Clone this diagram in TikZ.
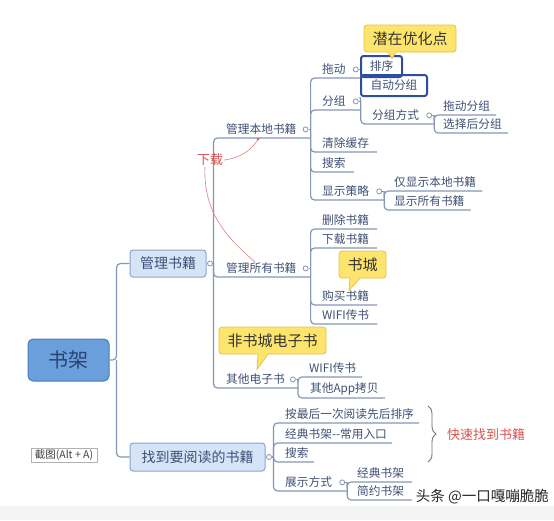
\documentclass[tikz,border=0pt]{standalone}
\usepackage{fontspec}
\newfontfamily\cjk{Noto Sans CJK SC}
\usetikzlibrary{calc,decorations.pathreplacing,shadows}
\definecolor{txt}{HTML}{3F5075}
\definecolor{linec}{HTML}{8597B5}
\definecolor{rootfill}{HTML}{6A9FDC}
\definecolor{rootdraw}{HTML}{4A7DBE}
\definecolor{rtxt}{HTML}{2B4270}
\definecolor{boxfill}{HTML}{D6E4F8}
\definecolor{boxdraw}{HTML}{8CA4CC}
\definecolor{callfill}{HTML}{FDE46C}
\definecolor{calldraw}{HTML}{E6C440}
\definecolor{hlc}{HTML}{2F4D9E}
\definecolor{redc}{HTML}{D9534F}
\definecolor{bandc}{HTML}{F3F3F3}
\newcommand\callptr[4]{%
  \fill[callfill] ($(#1.south)+(#2,-1.2)$) -- ($(#1.south)+(#4)$) -- ($(#1.south)+(#3,-1.2)$) -- cycle;
  \draw[calldraw, line width=0.8pt] ($(#1.south)+(#2,-0.3)$) -- ($(#1.south)+(#4)$) -- ($(#1.south)+(#3,-0.3)$);}
\begin{document}
\begin{tikzpicture}[x=1pt,y=-1pt,
  leaf/.style={font=\cjk\fontsize{11.7}{13}\selectfont, text=txt, inner xsep=0pt, inner ysep=3pt, anchor=south west},
  conn/.style={draw=linec, line width=1.2pt, rounded corners=4pt},
  knob/.style={circle, draw=linec, fill=white, inner sep=0pt, minimum size=5pt, line width=0.8pt},
  mainbox/.style={draw=boxdraw, fill=boxfill, line width=1pt, rounded corners=3pt, text=txt, font=\cjk\fontsize{14}{16}\selectfont, inner sep=0pt},
  callout/.style={draw=calldraw, fill=callfill, line width=0.8pt, rounded corners=3pt, text=black!80, font=\cjk\fontsize{15}{17}\selectfont, inner sep=0pt},
  hlbox/.style={draw=hlc, line width=2pt, rounded corners=2.5pt, text=txt, font=\cjk\fontsize{11.7}{13}\selectfont, inner sep=0pt, anchor=south west},
  redtxt/.style={text=redc, font=\cjk\fontsize{13}{15}\selectfont, inner sep=1pt},
  redln/.style={draw=redc!75, line width=0.6pt},
]
\useasboundingbox (0,0) rectangle (554,520);
\fill[white] (0,0) rectangle (554,520);
\fill[bandc] (0,506) rectangle (554,520);

% root and main boxes
\node[draw=rootdraw, fill=rootfill, line width=1pt, rounded corners=5pt, minimum width=81pt, minimum height=42pt, text=rtxt, font=\cjk\fontsize{20}{22}\selectfont] (root) at (68.5,360) {书架};
\node[mainbox, minimum width=76pt, minimum height=27pt] (b1) at (168,263.5) {管理书籍};
\node[mainbox, minimum width=135pt, minimum height=28pt] (b2) at (197.5,457) {找到要阅读的书籍};
\coordinate (s0) at ([xshift=7pt]root.east);
\node[knob] (k1) at ([xshift=3.5pt]b1.east) {};
\coordinate (s1) at ([xshift=7pt]b1.east);
\node[knob] (k2) at ([xshift=3.5pt]b2.east) {};
\coordinate (s2) at ([xshift=8pt]b2.east);
\draw[conn] (root.east) -- (s0) |- (b1.west);
\draw[conn] (s0) |- (b2.west);
\draw[conn] (k1.east) -- (s1);
\draw[conn] (k2.east) -- (s2);

% level 1 under 管理书籍
\node[leaf] (l1a) at (226,138) {管理本地书籍};
\node[leaf] (l1b) at (226,277) {管理所有书籍};
\node[leaf] (l1c) at (226,388) {其他电子书};
\node[knob] (k1a) at ([xshift=9pt]l1a.east) {};
\node[knob] (k1b) at ([xshift=9pt]l1b.east) {};
\node[knob] (k1c) at ([xshift=8pt]l1c.east) {};
\coordinate (s1a) at ([xshift=5pt]k1a.center);
\coordinate (s1b) at ([xshift=5pt]k1b.center);
\coordinate (s1c) at ([xshift=5pt]k1c.center);
\draw[conn] (s1) |- (l1a.south west) -- (l1a.south west -| s1a);
\draw[conn] (s1) |- (l1b.south west) -- (l1b.south west -| s1b);
\draw[conn] (s1) |- (l1c.south west) -- (l1c.south west -| s1c);
\draw[conn] (k1a.east) -- (s1a);
\draw[conn] (k1b.east) -- (s1b);
\draw[conn] (k1c.east) -- (s1c);

% under 管理本地书籍
\node[leaf] (tuo) at (322,78) {拖动};
\node[leaf] (fz) at (322,110) {分组};
\node[leaf] (qc) at (322,152) {清除缓存};
\node[leaf] (ssa) at (322,172) {搜索};
\node[leaf] (xs) at (322,200) {显示策略};
\node[knob] (ktuo) at ([xshift=10pt]tuo.east) {};
\node[knob] (kfz) at ([xshift=10pt]fz.east) {};
\node[knob] (kxs) at ([xshift=10pt]xs.east) {};
\coordinate (sfz) at ([xshift=5pt]kfz.center);
\coordinate (sxs) at ([xshift=5pt]kxs.center);
\node[hlbox, minimum width=41pt, minimum height=21pt] (px) at (360,78) {排序};
\node[hlbox, minimum width=66pt, minimum height=21pt] (zd) at (360,97) {自动分组};
\draw[conn] (s1a) |- (tuo.south west) -- (px.south west);
\draw[conn] (s1a) |- (fz.south west) -- (fz.south west -| sfz);
\draw[conn] (s1a) |- (qc.south west) -- ([xshift=8pt]qc.south east);
\draw[conn] (s1a) |- (ssa.south west) -- ([xshift=8pt]ssa.south east);
\draw[conn] (s1a) |- (xs.south west) -- (xs.south west -| sxs);
\draw[conn] (ktuo.east) -- (ktuo.east -| px.west);
\draw[conn] (kfz.east) -- (sfz);
\draw[conn] (kxs.east) -- (sxs);

% under 分组
\node[leaf] (fzfs) at (372,124) {分组方式};
\node[knob] (kfzfs) at ([xshift=10pt]fzfs.east) {};
\coordinate (sfzfs) at ([xshift=5pt]kfzfs.center);
\draw[conn] (sfz) -- (zd.south west);
\draw[conn] (sfz) |- (fzfs.south west) -- (fzfs.south west -| sfzfs);
\draw[conn] (kfzfs.east) -- (sfzfs);
\node[leaf] (tdfz) at (443,115) {拖动分组};
\node[leaf] (xzh) at (443,133) {选择后分组};
\draw[conn] (sfzfs) |- (tdfz.south west) -- ([xshift=6pt]tdfz.south east);
\draw[conn] (sfzfs) |- (xzh.south west) -- ([xshift=6pt]xzh.south east);

% under 显示策略
\node[leaf] (jxs) at (394,191) {仅显示本地书籍};
\node[leaf] (xssy) at (394,210) {显示所有书籍};
\draw[conn] (sxs) |- (jxs.south west) -- ([xshift=6pt]jxs.south east);
\draw[conn] (sxs) |- (xssy.south west) -- ([xshift=6pt]xssy.south east);

% under 管理所有书籍
\node[leaf] (sc) at (322,229) {删除书籍};
\node[leaf] (xzs) at (322,248) {下载书籍};
\node[leaf] (gm) at (322,305) {购买书籍};
\node[leaf] (wfa) at (322,324) {WIFI传书};
\foreach \n in {sc,xzs,gm,wfa}
  \draw[conn] (s1b) |- (\n.south west) -- ([xshift=8pt]\n.south east);

% under 其他电子书
\node[leaf] (wfb) at (309,377) {WIFI传书};
\node[leaf] (app) at (310,398) {其他App拷贝};
\draw[conn] (s1c) |- (wfb.south west) -- ([xshift=6pt]wfb.south east);
\draw[conn] (s1c) |- (app.south west) -- ([xshift=6pt]app.south east);

% under 找到要阅读的书籍
\node[leaf] (azh) at (285,423) {按最后一次阅读先后排序};
\node[leaf] (jdr) at (285,443) {经典书架--常用入口};
\node[leaf] (ssb) at (285,462) {搜索};
\node[leaf] (zsfs) at (285,491) {展示方式};
\foreach \n in {azh,jdr,ssb}
  \draw[conn] (s2) |- (\n.south west) -- ([xshift=5pt]\n.south east);
\node[knob] (kzs) at ([xshift=10pt]zsfs.east) {};
\coordinate (szs) at ([xshift=5pt]kzs.center);
\draw[conn] (s2) |- (zsfs.south west) -- (zsfs.south west -| szs);
\draw[conn] (kzs.east) -- (szs);
\node[leaf] (jdsj) at (357,482) {经典书架};
\node[leaf] (jysj) at (357,500) {简约书架};
\draw[conn] (szs) |- (jdsj.south west) -- ([xshift=8pt]jdsj.south east);
\draw[conn] (szs) |- (jysj.south west) -- ([xshift=8pt]jysj.south east);

% callouts
\node[callout, minimum width=92pt, minimum height=27pt] (co1) at (410,38.5) {潜在优化点};
\callptr{co1}{-22}{-14}{-18,6}
\node[callout, minimum width=47pt, minimum height=27pt] (co2) at (362.5,264.5) {书城};
\callptr{co2}{-12.5}{-2.5}{-13.5,12}
\node[callout, minimum width=107pt, minimum height=27pt] (co3) at (272.5,340.5) {非书城电子书};
\callptr{co3}{-14.5}{-4.5}{-15.5,15}

% red annotation
\node[redtxt] (xz) at (210,160) {下载};
\coordinate (xzt1) at (258,139);
\coordinate (xzt2) at (255,262);
\draw[redln] (xz.east) .. controls (240,158) and (252,150) .. (xzt1);
\fill[redc] (xzt1) circle (1.4pt);
\draw[redln] ([xshift=-5pt]xz.south) .. controls (203,215) and (230,240) .. (xzt2);

% brace
\coordinate (bt) at (428,406);
\coordinate (bb) at (428,462);
\draw[black!55, line width=0.9pt, decorate, decoration={brace, amplitude=8pt}] (bt) -- (bb);
\node[redtxt] (ks) at (486,435) {快速找到书籍};

% screenshot tip
\node[draw=gray!60, fill=white, drop shadow={shadow xshift=1pt, shadow yshift=-1pt, fill=gray!40}, font=\cjk\fontsize{10.5}{12}\selectfont, text=black!75, inner xsep=1pt, inner ysep=1pt, minimum height=14pt, minimum width=66pt] (jt) at (64,455) {截图(Alt + A)};

% watermark
\node[font=\cjk\fontsize{14.5}{16}\selectfont, text=black!85, anchor=east, inner sep=0pt] (wm) at (549,497) {头条 @一口嘎嘣脆脆};
\end{tikzpicture}
\end{document}
